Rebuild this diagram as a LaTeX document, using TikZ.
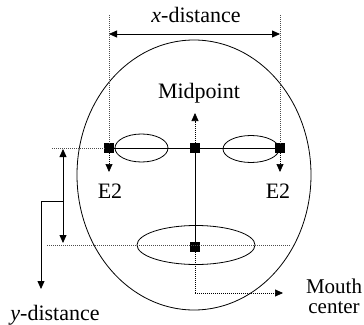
\documentclass[tikz,border=0pt]{standalone}
\usepackage{fontspec}
\setmainfont{Liberation Serif}
\usetikzlibrary{arrows.meta,shapes.geometric}
\begin{document}
\begin{tikzpicture}[x=1pt,y=-1pt,
  solidline/.style={line width=0.8pt},
  dotline/.style={line width=0.7pt,black!70,dash pattern=on 1pt off 1pt},
  tip/.style={-{Triangle[length=8pt,width=7pt]}},
  dtip/.style={{Triangle[length=8pt,width=7pt]}-{Triangle[length=8pt,width=7pt]}},
  sq/.style={fill=black,minimum size=9.5pt,inner sep=0pt},
  oval/.style={ellipse,draw,line width=0.8pt,inner sep=0pt},
  lbl/.style={inner sep=0pt,font=\fontsize{22}{17}\selectfont}]
\useasboundingbox (0,0) rectangle (364,324);
% face and features
\node[oval,minimum width=234pt,minimum height=270pt] (face) at (194,175) {};
\node[oval,minimum width=53pt,minimum height=28pt] (eyeL) at (141.5,148) {};
\node[oval,minimum width=56pt,minimum height=27pt] (eyeR) at (251,149) {};
\node[oval,minimum width=118pt,minimum height=39pt] (mouth) at (196,245) {};
% points
\node[sq] (le) at (109,148) {};
\node[sq] (mid) at (195,148) {};
\node[sq] (re) at (280,148) {};
\node[sq] (mo) at (195,247) {};
\draw[solidline] (le) -- (re);
\draw[solidline] (mid) -- (mo);
% x-distance
\coordinate (xl) at (109,15);
\coordinate (xr) at (280,15);
\draw[dotline] (xl) -- (le);
\draw[dotline] (xr) -- (re);
\coordinate (xa) at (109,34);
\coordinate (xb) at (280,34);
\draw[solidline,dtip] (xa) -- (xb);
\node[lbl,anchor=base] (xlab) at (196,23) {\textit{x}-distance};
% midpoint
\coordinate (mt) at (195,113);
\draw[dotline,tip,black] (mid) -- (mt);
\node[lbl,anchor=base] (midlab) at (199,98) {Midpoint};
% E2
\coordinate (e2a) at (109,172);
\coordinate (e2b) at (280,172);
\draw[dotline,tip,black] (le) -- (e2a);
\draw[dotline,tip,black] (re) -- (e2b);
\node[lbl,anchor=base] (e2l) at (110,198) {E2};
\node[lbl,anchor=base] (e2r) at (278,198) {E2};
% horizontal guides
\coordinate (h1) at (52,148);
\draw[dotline] (h1) -- (le);
\coordinate (h2a) at (47,245.5);
\coordinate (h2b) at (290,245.5);
\draw[dotline] (h2a) -- (h2b);
% y-distance
\coordinate (ya) at (63,149);
\coordinate (yb) at (63,243);
\draw[solidline,dtip] (ya) -- (yb);
\coordinate (yc) at (63,201);
\coordinate (yd) at (41,289);
\draw[solidline,tip] (yc) -| (yd);
\node[lbl,anchor=base] (ylab) at (55,320) {\textit{y}-distance};
% mouth center
\coordinate (mc1) at (195,293);
\coordinate (mc2) at (283,293);
\draw[dotline,black] (mo) -- (mc1);
\draw[dotline,tip,black] (mc1) -- (mc2);
\node[lbl,font=\fontsize{21}{20}\selectfont,align=center,anchor=north] (mlab) at (334,279) {Mouth\\center};
\end{tikzpicture}
\end{document}
